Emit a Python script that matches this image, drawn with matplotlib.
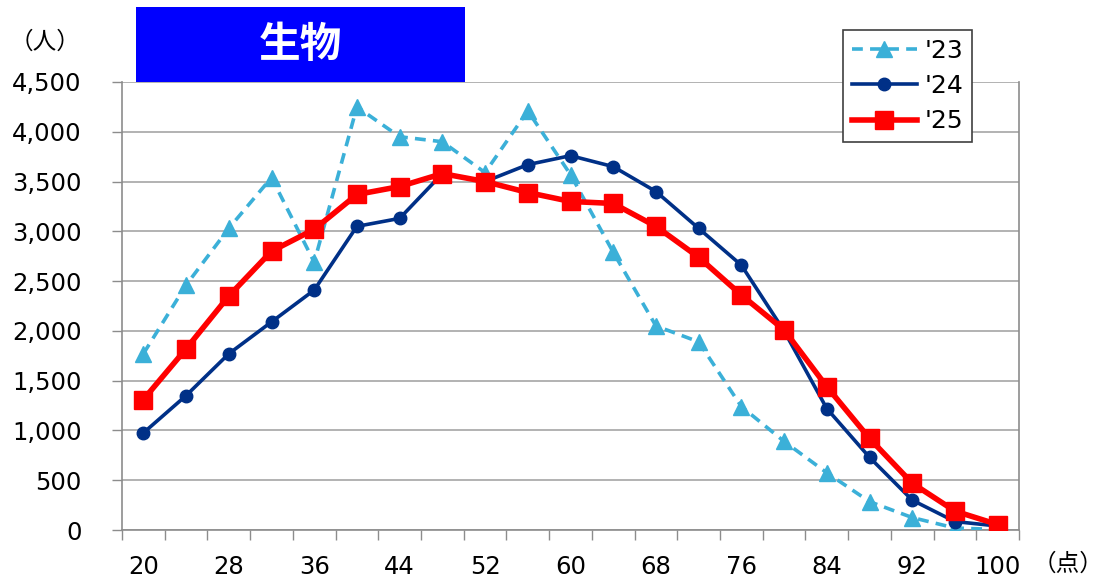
import numpy as np
import matplotlib.pyplot as plt
from matplotlib.patches import Rectangle
from matplotlib.ticker import FixedLocator, FuncFormatter

plt.rcParams['font.family'] = ['DejaVu Sans', 'Noto Sans CJK JP']

# score categories (点)
scores = list(range(20, 101, 4))
tick_labels = [str(s) if i % 2 == 0 else '' for i, s in enumerate(scores)]

# number of examinees (人)
y23 = [1770, 2460, 3030, 3540, 2690, 4250, 3950, 3900, 3590, 4210, 3570,
       2790, 2050, 1890, 1240, 890, 575, 285, 125, 20, 5]
y24 = [975, 1350, 1770, 2090, 2410, 3050, 3130, 3580, 3500, 3670, 3760,
       3650, 3400, 3030, 2660, 2000, 1220, 730, 300, 85, 40]
y25 = [1310, 1820, 2350, 2800, 3020, 3370, 3450, 3580, 3500, 3390, 3300,
       3280, 3050, 2740, 2360, 2010, 1440, 920, 470, 190, 55]

fig = plt.figure(figsize=(11.06, 5.84), dpi=100)
ax = fig.add_axes([122 / 1106, 54 / 584, (1019 - 122) / 1106, (530 - 82) / 584])

x = np.arange(len(scores))
ax.plot(x, y23, color='#3bb0d8', lw=2.6, ls=(0, (3, 2)), marker='^', ms=11, label="'23", zorder=3)
ax.plot(x, y24, color='#003087', lw=2.6, marker='o', ms=9, label="'24", zorder=4)
ax.plot(x, y25, color='#ff0000', lw=4, marker='s', ms=13, label="'25", zorder=5)

ax.set_xlim(-0.5, len(scores) - 0.5)
ax.set_ylim(0, 4500)
ax.set_yticks(np.arange(0, 4501, 500))
ax.yaxis.set_major_formatter(FuncFormatter(lambda v, p: f'{int(v):,}'))
ax.set_xticks(x)
ax.set_xticklabels(tick_labels)
ax.xaxis.set_minor_locator(FixedLocator(np.arange(-0.5, len(scores), 1)))
ax.tick_params(axis='x', which='major', length=0, pad=18, labelsize=17.5)
ax.tick_params(axis='x', which='minor', length=7, width=1, color='#8c8c8c')
ax.tick_params(axis='y', length=7, width=1, color='#8c8c8c', pad=22, labelsize=17.5)

ax.grid(axis='y', color='#a6a6a6', lw=1.2)
for s in ['left', 'right', 'bottom']:
    ax.spines[s].set_color('#8c8c8c')
    ax.spines[s].set_linewidth(1.2)
ax.spines['top'].set_visible(False)

leg = ax.legend(loc='upper left', bbox_to_anchor=(843 / 1106, 1 - 30 / 584),
                bbox_transform=fig.transFigure, fontsize=18, frameon=True,
                fancybox=False, edgecolor='#404040', handlelength=2.6,
                handletextpad=0.3, labelspacing=0.45, borderpad=0.35,
                borderaxespad=0, framealpha=1)
leg.get_frame().set_linewidth(1.2)

# title box
fig.patches.append(Rectangle((136 / 1106, 1 - 82 / 584), (465 - 136) / 1106, 75 / 584,
                             transform=fig.transFigure, facecolor='#0000ff',
                             edgecolor='none', zorder=10))
fig.text(300 / 1106, 1 - 45 / 584, '生物', color='white', fontsize=30, fontweight='bold',
         ha='center', va='center', family=['Noto Sans CJK JP'], zorder=11)

fig.text(45 / 1106, 1 - 42 / 584, '（人）', fontsize=17, ha='center', va='center')
fig.text(1103 / 1106, 1 - 564 / 584, '（点）', fontsize=17, ha='right', va='center')

fig.savefig('out.png', dpi=100)
